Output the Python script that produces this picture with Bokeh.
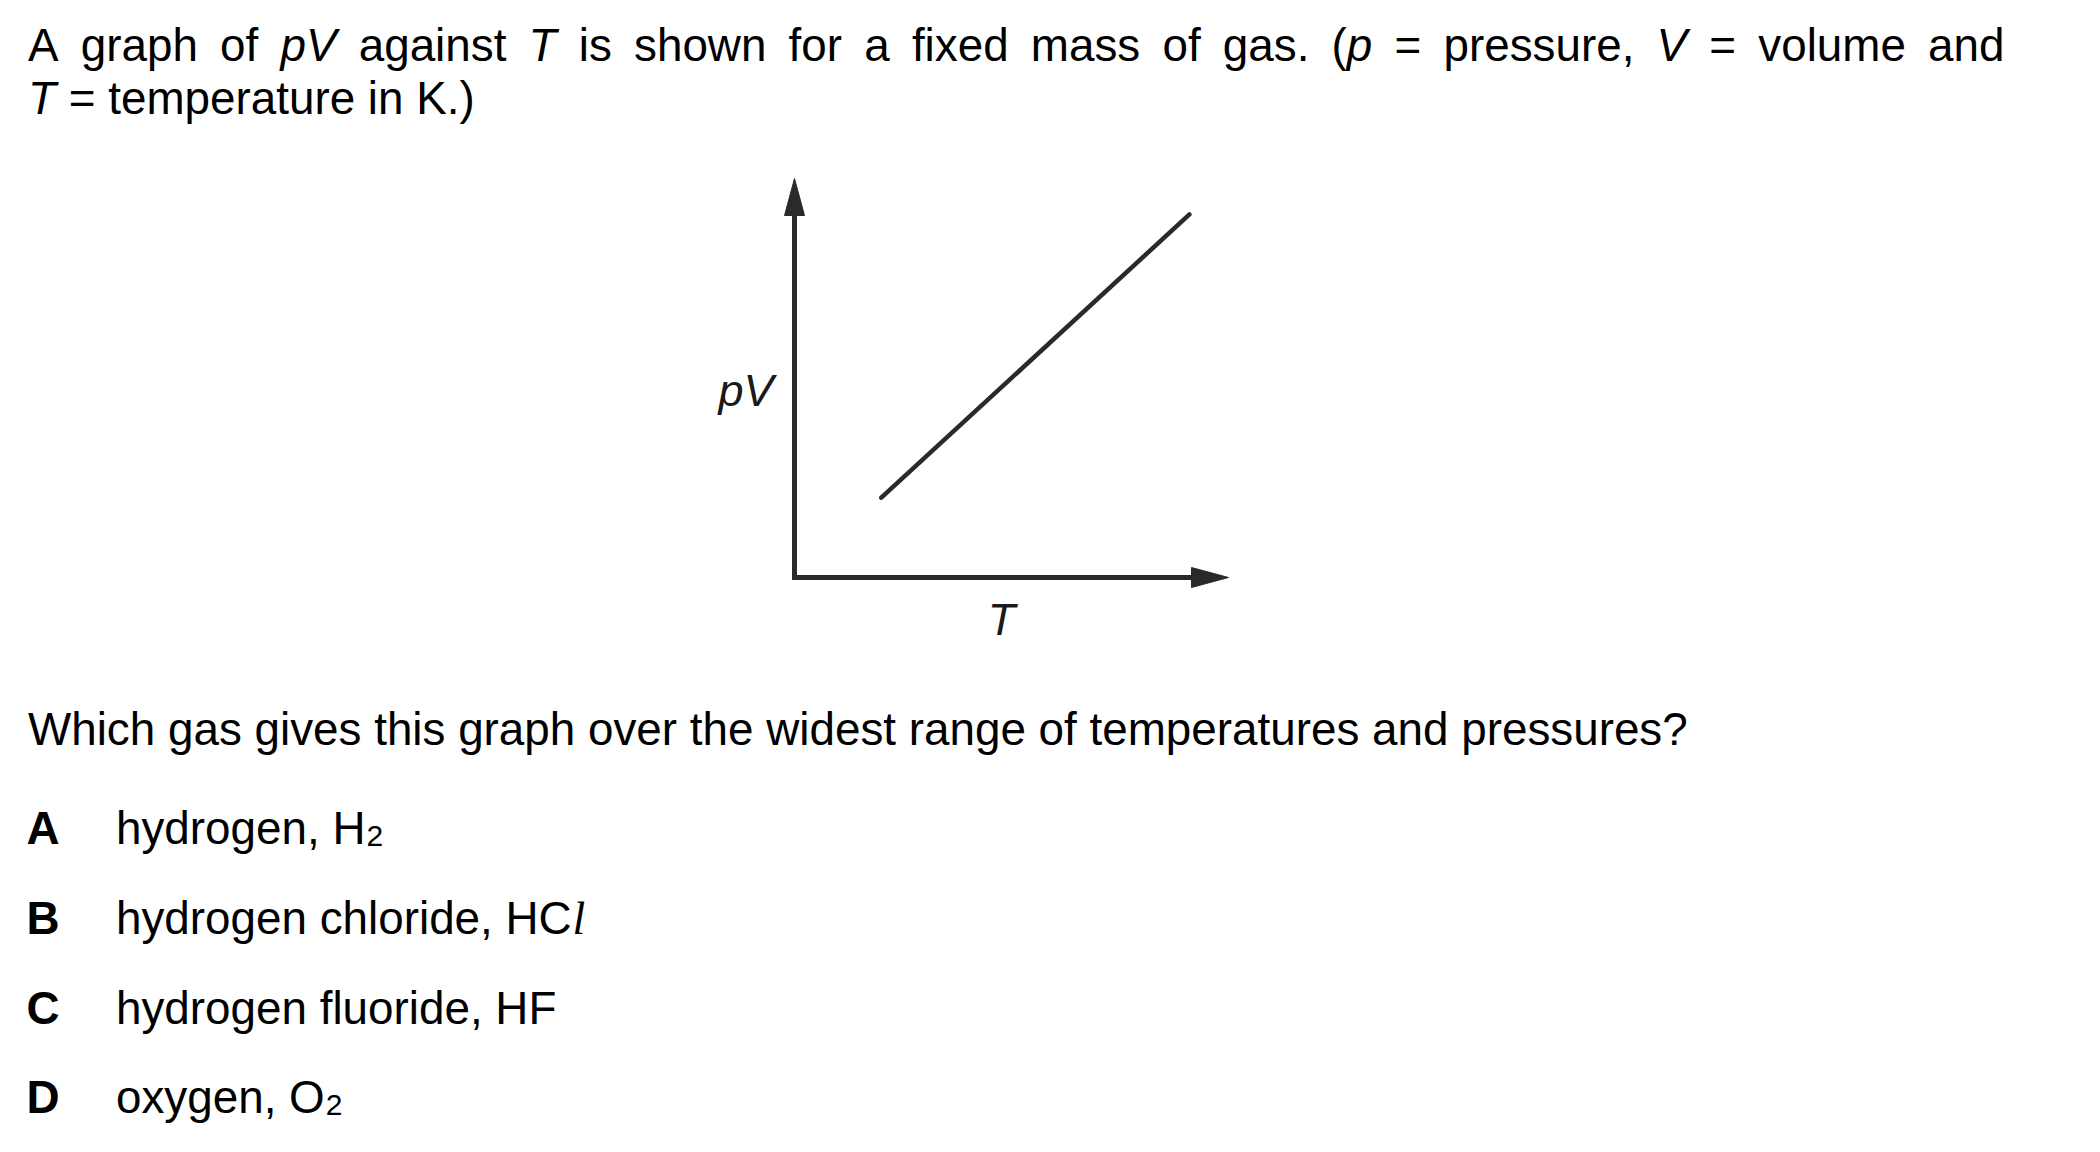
from bokeh.plotting import figure
from bokeh.models import Range1d
from bokeh.core.properties import value
from bokeh.embed import file_html
from bokeh.resources import INLINE

# ---------------- data ----------------
T_line = [2.0, 9.1]          # temperature values of the plotted line
pV_line = [2.0, 9.1]         # pV values of the plotted line
T_axis_max = 10.0
pV_axis_max = 10.0
x_label = "T"
y_label = "pV"

question = "Which gas gives this graph over the widest range of temperatures and pressures?"
option_letters = ["A", "B", "C", "D"]
option_texts = ["hydrogen, H", "hydrogen chloride, HC", "hydrogen fluoride, HF", "oxygen, O"]
option_tails = ["2", "l", "", "2"]          # subscript / italic-serif tail
option_tail_kind = ["sub", "ital", "", "sub"]

# first intro line (justified), words made of (text, style) segments
intro1 = [
    [("A", "normal")], [("graph", "normal")], [("of", "normal")], [("pV", "italic")],
    [("against", "normal")], [("T", "italic")], [("is", "normal")], [("shown", "normal")],
    [("for", "normal")], [("a", "normal")], [("fixed", "normal")], [("mass", "normal")],
    [("of", "normal")], [("gas.", "normal")], [("(", "normal"), ("p", "italic")],
    [("=", "normal")], [("pressure,", "normal")], [("V", "italic")], [("=", "normal")],
    [("volume", "normal")], [("and", "normal")],
]
intro2 = [("T", "italic"), ("= temperature in K.)", "normal")]

# ---------------- layout ----------------
W, H = 2084, 1136
OFF = 0
TEXT_DY = -16
FONT = "Liberation Sans"
SERIF = "Liberation Serif"
FS = 45.8
ORIGIN = (794, 577)   # page px of the axes origin
T_TIP = 1228
PV_TIP = 178

sx = (T_TIP - ORIGIN[0]) / T_axis_max
sy = (ORIGIN[1] - PV_TIP) / pV_axis_max
ox = ORIGIN[0] - OFF
oy = ORIGIN[1] - OFF


def X(px):
    return (px - OFF - ox) / sx


def Y(py):
    return (oy - (py - OFF)) / sy


AW = dict(a=556, b=556, c=500, d=556, e=556, f=278, g=556, h=556, i=222, j=222, k=500,
          l=222, m=833, n=556, o=556, p=556, q=556, r=333, s=500, t=278, u=556, v=500,
          w=722, x=500, y=500, z=500)
AW.update({"A": 667, "B": 667, "C": 722, "D": 722, "F": 611, "H": 722, "K": 667, "O": 778,
           "T": 611, "V": 667, "W": 944, " ": 278, ",": 278, ".": 278, "(": 333, ")": 333,
           "=": 584, "?": 556, "2": 556})


def tw(s, size=FS):
    return sum(AW.get(c, 556) for c in s) * size / 1000.0


p = figure(width=W, height=H, x_range=Range1d(-ox / sx, (W - ox) / sx),
           y_range=Range1d(-(H - oy) / sy, oy / sy),
           output_backend="svg", toolbar_location=None, min_border=0)
p.axis.visible = False
p.grid.visible = False
p.outline_line_color = None
p.background_fill_color = "white"
p.border_fill_color = "white"


def txt(x, y, s, style="normal", font=FONT, size=FS, align="left", color="black"):
    p.text(x=[X(x)], y=[Y(y + TEXT_DY)], text=[s], text_font=value(font),
           text_font_size=f"{size}px", text_font_style=style, text_align=align,
           text_baseline="alphabetic", text_color=color)


# intro line 1, justified between x=L and x=R
L, R = 27.5, 2004
widths = [sum(tw(t) for t, _ in w) for w in intro1]
gap = (R - L - sum(widths)) / (len(intro1) - 1)
x = L
for w, wd in zip(intro1, widths):
    xx = x
    for t, st in w:
        txt(xx, 61, t, st)
        xx += tw(t)
    x += wd + gap

# intro line 2
x = L
for t, st in intro2:
    txt(x, 114, t, st)
    x += tw(t) + tw(" ")

# question
txt(L, 745, question)

# options
base = [844, 934, 1024, 1113]
for let, t, tail, kind, yb in zip(option_letters, option_texts, option_tails, option_tail_kind, base):
    txt(26, yb, let, "bold")
    txt(115.5, yb, t)
    xe = 115.5 + tw(t)
    if kind == "sub":
        txt(xe + 1, yb + 7, tail, size=30)
    elif kind == "ital":
        txt(xe + 1, yb, tail, "italic", font=SERIF)

# ---------------- chart ----------------
AXC = "#2a2a2a"
head_len_px, head_w_px = 37, 20
# axis shafts (single polyline with mitred corner)
p.line(x=[0, 0, T_axis_max - head_len_px / sx], y=[pV_axis_max - head_len_px / sy, 0, 0],
       line_width=5, line_color=AXC, line_join="miter", line_cap="butt")
# arrow heads
p.patch(x=[0, -head_w_px / 2 / sx, head_w_px / 2 / sx],
        y=[pV_axis_max, pV_axis_max - head_len_px / sy, pV_axis_max - head_len_px / sy],
        fill_color=AXC, line_color=AXC, line_width=1)
p.patch(x=[T_axis_max, T_axis_max - head_len_px / sx, T_axis_max - head_len_px / sx],
        y=[0, head_w_px / 2 / sy, -head_w_px / 2 / sy],
        fill_color=AXC, line_color=AXC, line_width=1)

# data line
p.line(x=T_line, y=pV_line, line_width=4.5, line_color=AXC, line_cap="round")

# axis labels
txt(773, 406, y_label, "italic", size=45, align="right", color="#1a1a1a")
txt(1001, 635, x_label, "italic", size=45, align="center", color="#1a1a1a")

open("out.html", "w").write(file_html(p, INLINE))
